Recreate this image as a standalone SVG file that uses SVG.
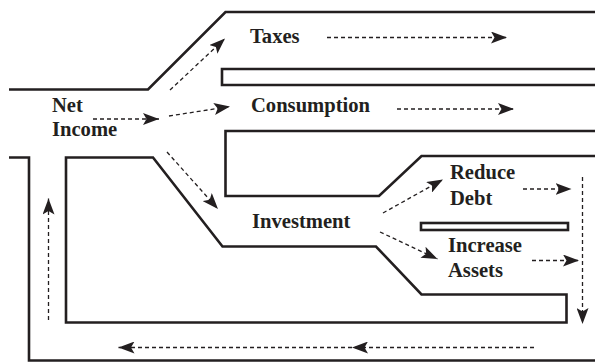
<svg xmlns="http://www.w3.org/2000/svg" width="595" height="362" viewBox="0 0 595 362">
<defs>
<marker id="ah" markerUnits="userSpaceOnUse" markerWidth="17" markerHeight="12" refX="16" refY="6" orient="auto">
<path d="M0,0 L16,6 L0,12 L3.5,6 z" fill="#231f20"/>
</marker>
</defs>
<style>
.wall{fill:none;stroke:#231f20;stroke-width:2.6;stroke-linejoin:miter}
.flow{fill:none;stroke:#231f20;stroke-width:1.3;stroke-dasharray:4,3;marker-end:url(#ah)}
.lbl{font-family:"Liberation Serif","Times New Roman",serif;font-weight:bold;font-size:20.6px;fill:#231f20}
</style>
<rect width="595" height="362" fill="#fff"/>
<g id="walls">
<path class="wall" d="M9,89.5 L148,89.5 L225.5,12 L595,12"/>
<path class="wall" d="M595,69 L222,69 L222,85 L595,85"/>
<path class="wall" d="M595,131 L225.5,131 L225.5,196 L379,196 L421.5,156 L595,156"/>
<path class="wall" d="M9,157.5 L29,157.5 L29,360.5 L595,360.5"/>
<path class="wall" d="M66,157.5 L153,157.5 L222.5,246.5 L376,246.5 L421.5,294.5 L566.5,294.5 L566.5,322.5 L66,322.5 Z"/>
<rect class="wall" x="421" y="223" width="147" height="7"/>
</g>
<g id="connectors">
<path class="flow" d="M93,119 L159,119"/>
<path class="flow" d="M170,90 L225,38.5"/>
<path class="flow" d="M169,116 L230,106.5"/>
<path class="flow" d="M167,152 L218,209"/>
<path class="flow" d="M327,37.5 L507,37.5"/>
<path class="flow" d="M397,109 L514,109"/>
<path class="flow" d="M383,213 L443,179.5"/>
<path class="flow" d="M380,232 L437.5,259"/>
<path class="flow" d="M523,189 L571.5,189"/>
<path class="flow" d="M532,260.5 L579,260.5"/>
<path class="flow" d="M582.5,177 L582.5,324"/>
<path class="flow" d="M534,347.5 L352,347.5"/>
<path class="flow" d="M352,347.5 L118.5,347.5"/>
<path class="flow" d="M48.5,320 L48.5,198.5"/>
</g>
<g id="net-income"><text class="lbl" x="52" y="112">Net</text><text class="lbl" x="52" y="136">Income</text></g>
<g id="taxes"><text class="lbl" x="250" y="43">Taxes</text></g>
<g id="consumption"><text class="lbl" x="251" y="112">Consumption</text></g>
<g id="investment"><text class="lbl" x="252" y="228">Investment</text></g>
<g id="reduce-debt"><text class="lbl" x="450" y="179">Reduce</text><text class="lbl" x="450" y="205">Debt</text></g>
<g id="increase-assets"><text class="lbl" x="448" y="252">Increase</text><text class="lbl" x="448" y="277">Assets</text></g>
</svg>
